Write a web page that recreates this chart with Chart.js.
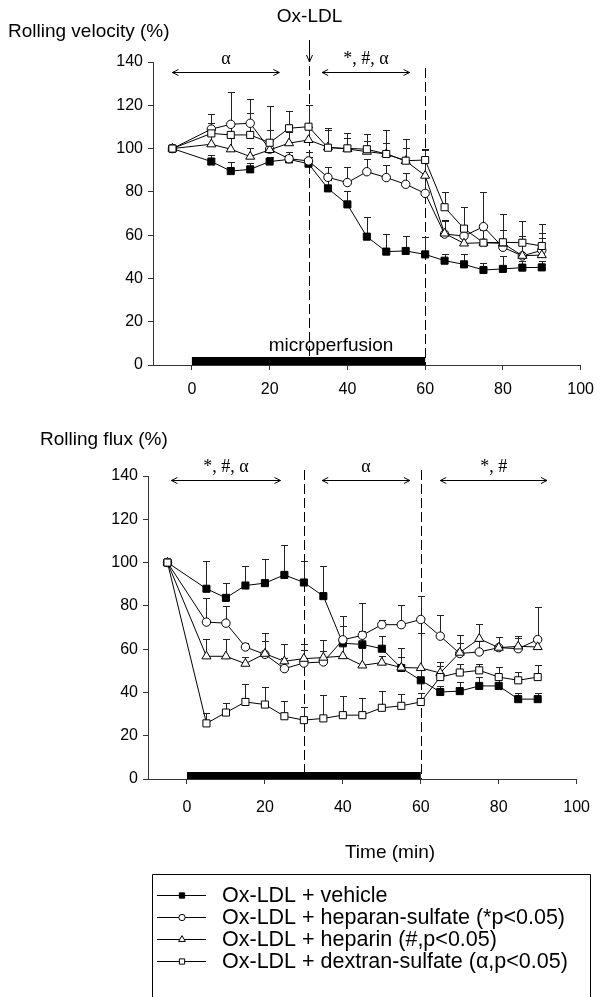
<!DOCTYPE html>
<html><head><meta charset="utf-8">
<script src="https://cdn.jsdelivr.net/npm/chart.js@4.4.1/dist/chart.umd.min.js"></script>
<style>
html,body{margin:0;padding:0;background:#fff;}
body{width:604px;height:997px;overflow:hidden;position:relative;}
canvas{position:absolute;left:0;}
</style></head>
<body>
<canvas id="c1" width="604" height="420" style="top:0px"></canvas>
<canvas id="c2" width="604" height="577" style="top:420px"></canvas>
<script>
// ---------- data ----------
const TIMES = [-5,5,10,15,20,25,30,35,40,45,50,55,60,65,70,75,80,85,90];
const X_TICKS = [0,20,40,60,80,100];
const Y_TICKS = [0,20,40,60,80,100,120,140];
const SERIES_NAMES = ['Ox-LDL + vehicle','Ox-LDL + heparan-sulfate (*p<0.05)','Ox-LDL + heparin (#,p<0.05)','Ox-LDL + dextran-sulfate (\u03b1,p<0.05)'];

// Rolling velocity (%)
const VEL_VEHICLE = [100,94,89.6,90.4,94,95,93,81.6,74.2,59.3,52.4,52.7,51.1,48.2,46.5,43.9,44.4,45,45.1];
const VEL_HEPARAN = [100,109,111.2,111.7,99.7,95.3,94.3,86.7,84.3,89.3,86.6,83.5,79.3,60.5,59.6,63.9,54.4,50.4,53];
const VEL_HEPARIN = [100,102,99.7,96.3,99.4,102.5,104,100.6,99.8,98.6,97.5,94.3,87.5,60.8,56.2,56.5,56.2,50.5,50.8];
const VEL_DEXTRAN = [100,107,106.3,106.3,102.7,109.4,110.1,100.4,100.1,99.7,97.5,94.4,94.7,72.9,63,56.5,56.7,56.5,55];
const VEL_VEHICLE_ERR = [0,3,4,3,2,2,3,4,6,9,8,7,8,3,5,3,6,3,3];
const VEL_HEPARAN_ERR = [0,7,15,11,9,3,4,5,7,6,6,5,8,6,5,16,8,8,8];
const VEL_HEPARIN_ERR = [0,4,5,4,4,5,6,8,5,5,5,6,12,6,6,6,6,9,8];
const VEL_DEXTRAN_ERR = [0,5,4,10,17,8,10,9,7,7,11,10,5,7,10,6,13,10,10];

// Rolling flux (%)
const FLUX_VEHICLE = [100,87.9,83.7,89.4,90.5,94.3,90.8,84.5,62.7,62.2,60.2,51.3,45.6,40.2,40.6,43,43,36.9,36.9];
const FLUX_HEPARAN = [100,72.5,72,61,57.6,51,53.6,54.1,64.3,66.4,71.3,71.3,73.7,66,58,58.7,60.7,60.2,64.4];
const FLUX_HEPARIN = [100,56.7,56.7,53.3,57.9,54.4,55.6,56.1,56.8,52.5,53.8,51.5,51.3,49,58.4,64.8,60.7,61.3,61];
const FLUX_DEXTRAN = [100,25.7,30.7,35.6,34.4,29,27.2,28,29.5,29.5,32.9,33.8,35.6,47.1,49.2,50.2,47.1,45.6,47.1];
const FLUX_VEHICLE_ERR = [0,13,7,9,11,14,10,14,8,6,6,5,5,3,4,4,4,3,3];
const FLUX_HEPARAN_ERR = [0,11,8,2,10,5,6,5,11,15,2,9,11,10,5,5,5,5,15];
const FLUX_HEPARIN_ERR = [0,8,8,3,6,8,7,8,6,8,3,9,16,5,8,7,5,5,4];
const FLUX_DEXTRAN_ERR = [0,5,4.5,8.5,8,7,6,10.7,9,7.7,7.7,5.7,4,5,4,3,4.6,4,5.8];

// annotations (time values)
const PERFUSION = [0,60];
const OXLDL_TIME = 30;
const PHASE_LINES = [30,60];
const VEL_SIG_LABELS = ['\u03b1','*, #, \u03b1'];
const VEL_SIG_FROM = [-5,33.5];
const VEL_SIG_TO = [22.5,56];
const FLUX_SIG_LABELS = ['*, #, \u03b1','\u03b1','*, #'];
const FLUX_SIG_FROM = [-4,34.7,65];
const FLUX_SIG_TO = [24,57.2,92.4];

// ---------- styling ----------
const SANS = 'Arial, "Liberation Sans", sans-serif';
const SERIF = '"Times New Roman", "Liberation Serif", serif';
const STYLES = [
  {shape:'rect', r:5, fill:'#000', order:4},
  {shape:'circle', r:4.2, fill:'#fff', order:3},
  {shape:'triangle', r:5.2, fill:'#fff', order:2},
  {shape:'rect', r:5, fill:'#fff', order:1}
];

function arrowHead(ctx, x, y, dir) {
  ctx.beginPath();
  ctx.moveTo(x - dir*6, y - 3);
  ctx.lineTo(x, y);
  ctx.lineTo(x - dir*6, y + 3);
  ctx.stroke();
}

function makeAnnot(cfg) {
  return {
    id: 'annot_' + cfg.name,
    beforeDatasetsDraw(chart) {
      const {ctx, chartArea: a} = chart;
      const x = chart.scales.x, y = chart.scales.y;
      ctx.save();
      ctx.fillStyle = '#000';
      const b0 = x.getPixelForValue(PERFUSION[0]), b1 = x.getPixelForValue(PERFUSION[1]);
      ctx.fillRect(b0, a.bottom - cfg.barH, b1 - b0, cfg.barH);
      ctx.strokeStyle = '#000';
      ctx.lineWidth = 1;
      ctx.setLineDash([10,4]);
      PHASE_LINES.forEach((t,k) => {
        const px = Math.round(x.getPixelForValue(t)) + 0.5;
        ctx.beginPath(); ctx.moveTo(px, cfg.lineTop[k]); ctx.lineTo(px, a.bottom); ctx.stroke();
      });
      ctx.setLineDash([]);
      ctx.strokeStyle = '#222';
      chart.data.datasets.forEach((ds, di) => {
        const meta = chart.getDatasetMeta(di);
        ds.data.forEach((pt, i) => {
          const e = ds.errors[i];
          if (!e) return;
          const el = meta.data[i];
          const px = Math.round(el.x) + 0.5;
          const top = Math.round(y.getPixelForValue(pt.y + e)) + 0.5;
          ctx.beginPath();
          ctx.moveTo(px, el.y); ctx.lineTo(px, top);
          ctx.moveTo(px - 3.5, top); ctx.lineTo(px + 3.5, top);
          ctx.stroke();
        });
      });
      ctx.restore();
    },
    afterDraw(chart) {
      const {ctx} = chart;
      const x = chart.scales.x;
      ctx.save();
      ctx.fillStyle = '#000';
      ctx.strokeStyle = '#000';
      ctx.lineWidth = 1;
      // title
      ctx.font = cfg.titleFont;
      ctx.textAlign = 'left'; ctx.textBaseline = 'middle';
      ctx.fillText(cfg.title, cfg.titleX, cfg.titleY);
      // significance spans
      ctx.font = '18px ' + SERIF;
      ctx.textAlign = 'center'; ctx.textBaseline = 'alphabetic';
      cfg.sigLabels.forEach((lab, k) => {
        const p0 = x.getPixelForValue(cfg.sigFrom[k]), p1 = x.getPixelForValue(cfg.sigTo[k]);
        const yy = cfg.sigY + 0.5;
        ctx.beginPath(); ctx.moveTo(p0, yy); ctx.lineTo(p1, yy); ctx.stroke();
        arrowHead(ctx, p0, yy, -1);
        arrowHead(ctx, p1, yy, 1);
        ctx.fillText(lab, (p0 + p1) / 2, cfg.sigY - 8);
      });
      if (cfg.extra) cfg.extra(chart, ctx, x);
      ctx.restore();
    }
  };
}

function makeChart(id, cfg) {
  return new Chart(document.getElementById(id), {
    type: 'line',
    data: {
      datasets: cfg.series.map((s, k) => ({
        label: SERIES_NAMES[k],
        data: TIMES.map((t, i) => ({x: t, y: s[i]})),
        errors: cfg.errors[k],
        order: STYLES[k].order,
        borderColor: '#000',
        borderWidth: 1,
        pointStyle: STYLES[k].shape,
        pointRadius: STYLES[k].r,
        pointBackgroundColor: STYLES[k].fill,
        pointBorderColor: '#000',
        pointBorderWidth: 1,
        tension: 0,
        fill: false
      }))
    },
    options: {
      responsive: false,
      animation: false,
      events: [],
      layout: {padding: cfg.padding},
      plugins: {legend: {display: false}, tooltip: {enabled: false}, title: {display: false}},
      scales: {
        x: {
          type: 'linear', min: -10, max: 100,
          afterBuildTicks: s => { s.ticks = X_TICKS.map(v => ({value: v})); },
          afterFit: s => { s.height = cfg.xH; },
          grid: {drawOnChartArea: false, drawTicks: true, tickLength: 5, color: '#333', lineWidth: 1},
          border: {display: true, color: '#333', width: 1},
          ticks: {color: '#000', font: {family: SANS, size: 16}, padding: cfg.xPad, maxRotation: 0}
        },
        y: {
          type: 'linear', min: 0, max: 140,
          afterBuildTicks: s => { s.ticks = Y_TICKS.map(v => ({value: v})); },
          afterFit: s => { s.width = cfg.yW; },
          grid: {drawOnChartArea: false, drawTicks: true, tickLength: 5, color: '#333', lineWidth: 1},
          border: {display: true, color: '#333', width: 1},
          ticks: {color: '#000', font: {family: SANS, size: 16}, padding: 5}
        }
      }
    },
    plugins: [makeAnnot(cfg)]
  });
}

// top chart: chart area 153..589 x 62..365
makeChart('c1', {
  name: 'vel',
  series: [VEL_VEHICLE, VEL_HEPARAN, VEL_HEPARIN, VEL_DEXTRAN],
  errors: [VEL_VEHICLE_ERR, VEL_HEPARAN_ERR, VEL_HEPARIN_ERR, VEL_DEXTRAN_ERR],
  padding: {top: 62, right: 15, left: 0, bottom: 15},
  xH: 40, yW: 153, xPad: 10,
  barH: 8, lineTop: [66, 68],
  title: 'Rolling velocity (%)', titleFont: '19px ' + SANS, titleX: 8, titleY: 32,
  sigLabels: VEL_SIG_LABELS, sigFrom: VEL_SIG_FROM, sigTo: VEL_SIG_TO, sigY: 72,
  extra: (chart, ctx, x) => {
    const px = Math.round(x.getPixelForValue(OXLDL_TIME)) + 0.5;
    ctx.font = '19px ' + SANS;
    ctx.textAlign = 'center'; ctx.textBaseline = 'middle';
    ctx.fillText('Ox-LDL', px, 17);
    ctx.beginPath(); ctx.moveTo(px, 40); ctx.lineTo(px, 62); ctx.stroke();
    ctx.beginPath(); ctx.moveTo(px - 3, 55); ctx.lineTo(px, 62); ctx.lineTo(px + 3, 55); ctx.stroke();
    ctx.textBaseline = 'alphabetic';
    ctx.fillText('microperfusion', x.getPixelForValue(35.8), 351);
  }
});

// bottom chart: chart area 148..584 x 476..779 (canvas offset 420)
makeChart('c2', {
  name: 'flux',
  series: [FLUX_VEHICLE, FLUX_HEPARAN, FLUX_HEPARIN, FLUX_DEXTRAN],
  errors: [FLUX_VEHICLE_ERR, FLUX_HEPARAN_ERR, FLUX_HEPARIN_ERR, FLUX_DEXTRAN_ERR],
  padding: {top: 56, right: 20, left: 0, bottom: 173},
  xH: 45, yW: 148, xPad: 14,
  barH: 7, lineTop: [50, 50],
  title: 'Rolling flux (%)', titleFont: '19px ' + SANS, titleX: 40, titleY: 20,
  sigLabels: FLUX_SIG_LABELS, sigFrom: FLUX_SIG_FROM, sigTo: FLUX_SIG_TO, sigY: 60,
  extra: (chart, ctx, x) => {
    ctx.font = '19px ' + SANS;
    ctx.textAlign = 'center'; ctx.textBaseline = 'middle';
    ctx.fillText('Time (min)', 390, 433);
    // legend box
    const L = 152.5, T = 454.5, R = 590.5;
    ctx.beginPath(); ctx.moveTo(L, 577); ctx.lineTo(L, T); ctx.lineTo(R, T); ctx.lineTo(R, 577); ctx.stroke();
    const rows = [475, 497, 519, 541];
    ctx.font = '21.5px ' + SANS;
    ctx.textAlign = 'left';
    chart.data.datasets.forEach((ds, k) => {
      const yy = rows[k] + 0.5;
      ctx.beginPath(); ctx.moveTo(157, yy); ctx.lineTo(206, yy); ctx.stroke();
      ctx.save();
      ctx.fillStyle = STYLES[k].fill; ctx.strokeStyle = '#000';
      Chart.helpers.drawPoint(ctx, {pointStyle: STYLES[k].shape, radius: STYLES[k].r * 0.75, rotation: 0, borderWidth: 1}, 182, yy);
      ctx.restore();
      ctx.fillText(ds.label, 222, rows[k] + 1);
    });
  }
});
</script>
</body></html>
